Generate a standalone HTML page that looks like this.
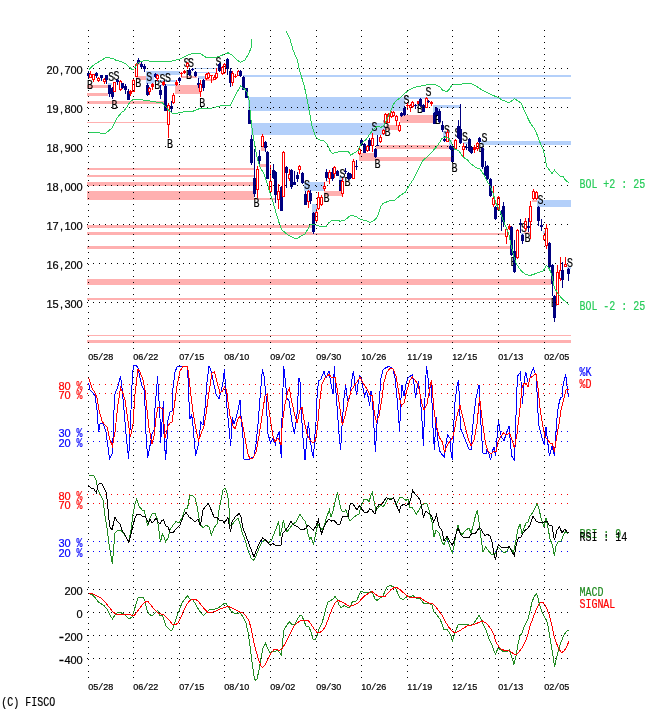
<!DOCTYPE html>
<html><head><meta charset="utf-8"><title>FISCO chart</title>
<style>html,body{margin:0;padding:0;background:#fff}svg{display:block}text{font-family:"Liberation Mono","DejaVu Sans Mono",monospace}text.s{font-family:"Liberation Sans","DejaVu Sans",sans-serif}tspan.m{font-family:"Liberation Mono","DejaVu Sans Mono",monospace}</style></head><body>
<svg width="670" height="724" viewBox="0 0 670 724" shape-rendering="crispEdges">
<rect width="670" height="724" fill="#fff"/>
<g>
<rect x="87" y="85" width="21" height="3" fill="#ffb0b0"/>
<rect x="87" y="93" width="21" height="3" fill="#ffb0b0"/>
<rect x="87" y="101" width="78" height="3" fill="#ffb0b0"/>
<rect x="87" y="122" width="81" height="1" fill="#ffb0b0"/>
<rect x="87" y="168" width="167" height="2" fill="#ffb0b0"/>
<rect x="87" y="175" width="167" height="2" fill="#ffb0b0"/>
<rect x="87" y="181.5" width="167" height="4" fill="#ffb0b0"/>
<rect x="87" y="191" width="167" height="8.5" fill="#ffb0b0"/>
<rect x="254" y="197.5" width="21" height="2" fill="#ffb0b0"/>
<rect x="87" y="225" width="225" height="2.5" fill="#ffb0b0"/>
<rect x="87" y="232" width="225" height="3" fill="#ffb0b0"/>
<rect x="312" y="233" width="193.5" height="2" fill="#ffb0b0"/>
<rect x="87" y="246" width="423" height="3" fill="#ffb0b0"/>
<rect x="87" y="279" width="464" height="5.5" fill="#ffb0b0"/>
<rect x="87" y="298" width="465.5" height="2" fill="#ffb0b0"/>
<rect x="87" y="335" width="484" height="1" fill="#ffb0b0"/>
<rect x="87" y="340" width="484" height="3" fill="#ffb0b0"/>
<rect x="135.5" y="76" width="10.5" height="4" fill="#ffb0b0"/>
<rect x="137" y="62.5" width="4" height="2" fill="#ffb0b0"/>
<rect x="175" y="85" width="24.5" height="8.5" fill="#ffb0b0"/>
<rect x="181" y="75.5" width="16" height="2.5" fill="#ffb0b0"/>
<rect x="204.5" y="79" width="9.5" height="1.5" fill="#ffb0b0"/>
<rect x="261" y="147" width="3.5" height="3.5" fill="#ffb0b0"/>
<rect x="259.5" y="164" width="6.5" height="2.5" fill="#ffb0b0"/>
<rect x="323.5" y="191" width="18" height="4.5" fill="#ffb0b0"/>
<rect x="325.5" y="180.5" width="3.5" height="1.5" fill="#ffb0b0"/>
<rect x="344" y="176.5" width="2" height="1.5" fill="#ffb0b0"/>
<rect x="400" y="115" width="34" height="7.5" fill="#ffb0b0"/>
<rect x="386" y="125" width="14" height="4.5" fill="#ffb0b0"/>
<rect x="376" y="145" width="75" height="3.5" fill="#ffb0b0"/>
<rect x="358.5" y="153" width="15.5" height="7.5" fill="#ffb0b0"/>
<rect x="374" y="157" width="77" height="3.5" fill="#ffb0b0"/>
<rect x="454" y="140" width="3" height="5" fill="#ffb0b0"/>
<rect x="532" y="199.5" width="5" height="2" fill="#ffb0b0"/>
<rect x="524" y="231.8" width="6" height="1.7" fill="#ffb0b0"/>
<rect x="242.5" y="75" width="328.5" height="2" fill="#b4d0fa"/>
<rect x="248" y="97" width="157" height="14" fill="#b4d0fa"/>
<rect x="405" y="97" width="166" height="2" fill="#b4d0fa"/>
<rect x="250.5" y="123" width="134.5" height="12" fill="#b4d0fa"/>
<rect x="146" y="71" width="34" height="3.5" fill="#b4d0fa"/>
<rect x="146" y="74.5" width="8" height="9.5" fill="#b4d0fa"/>
<rect x="154" y="80" width="22" height="1.5" fill="#b4d0fa"/>
<rect x="161" y="84" width="15" height="2" fill="#b4d0fa"/>
<rect x="192" y="68" width="26" height="1.2" fill="#b4d0fa"/>
<rect x="196" y="71.5" width="20" height="1.3" fill="#b4d0fa"/>
<rect x="197.5" y="76" width="7.5" height="2.5" fill="#b4d0fa"/>
<rect x="304" y="182" width="20.5" height="8.5" fill="#b4d0fa"/>
<rect x="312" y="204" width="5" height="8.5" fill="#b4d0fa"/>
<rect x="339" y="175.5" width="4.5" height="4" fill="#b4d0fa"/>
<rect x="433" y="105" width="27.5" height="2.5" fill="#b4d0fa"/>
<rect x="433" y="107.5" width="7" height="5.5" fill="#b4d0fa"/>
<rect x="443" y="131" width="4" height="7" fill="#b4d0fa"/>
<rect x="449" y="140" width="3" height="6" fill="#b4d0fa"/>
<rect x="463" y="142" width="5" height="2" fill="#b4d0fa"/>
<rect x="481" y="141" width="90" height="3.5" fill="#b4d0fa"/>
<rect x="537" y="199.5" width="34" height="7.3" fill="#b4d0fa"/>
<rect x="567" y="267" width="4" height="2" fill="#b4d0fa"/>
<rect x="521" y="233" width="3" height="2" fill="#b4d0fa"/>
<rect x="543" y="231" width="2" height="2.5" fill="#b4d0fa"/>
<rect x="108" y="83" width="4" height="1.5" fill="#b4d0fa"/>
</g>
<g>
<rect x="88" y="71" width="1" height="7" fill="#000080"/>
<rect x="87" y="73" width="3" height="3" fill="#000080"/>
<text transform="translate(87.1,88.8) scale(0.8333,1)" font-size="12" fill="#000" stroke="#000" stroke-width="0.2">B</text>
<rect x="90" y="71" width="1" height="7" fill="#ff0000"/>
<rect x="89.5" y="74.5" width="2" height="3" fill="#fff" stroke="#ff0000" stroke-width="1"/>
<rect x="93" y="74" width="1" height="8" fill="#ff0000"/>
<rect x="92.5" y="74.5" width="2" height="5" fill="#fff" stroke="#ff0000" stroke-width="1"/>
<rect x="96" y="72" width="1" height="6" fill="#000080"/>
<rect x="95" y="73" width="3" height="3" fill="#000080"/>
<rect x="98" y="77" width="1" height="5" fill="#ff0000"/>
<rect x="97.5" y="78.5" width="2" height="2" fill="#fff" stroke="#ff0000" stroke-width="1"/>
<rect x="101" y="75" width="1" height="6" fill="#000080"/>
<rect x="100" y="75" width="3" height="3" fill="#000080"/>
<rect x="104" y="78" width="1" height="6" fill="#ff0000"/>
<rect x="103.5" y="79.5" width="2" height="2" fill="#fff" stroke="#ff0000" stroke-width="1"/>
<rect x="106" y="75" width="1" height="9" fill="#000080"/>
<rect x="105" y="75" width="3" height="5" fill="#000080"/>
<rect x="109" y="85" width="1" height="12" fill="#000080"/>
<rect x="108" y="85" width="3" height="9" fill="#000080"/>
<text transform="translate(108.3,80.6) scale(0.8333,1)" font-size="12" fill="#000" stroke="#000" stroke-width="0.2">S</text>
<rect x="112" y="87" width="1" height="12" fill="#000080"/>
<rect x="111" y="88" width="3" height="9" fill="#000080"/>
<text transform="translate(111.4,109.3) scale(0.8333,1)" font-size="12" fill="#000" stroke="#000" stroke-width="0.2">B</text>
<rect x="114" y="82" width="1" height="10" fill="#ff0000"/>
<rect x="113.5" y="82.5" width="2" height="9" fill="#fff" stroke="#ff0000" stroke-width="1"/>
<text transform="translate(113.4,80.2) scale(0.8333,1)" font-size="12" fill="#000" stroke="#000" stroke-width="0.2">S</text>
<rect x="117" y="79" width="1" height="6" fill="#000080"/>
<rect x="116" y="80" width="3" height="2" fill="#000080"/>
<rect x="120" y="80" width="1" height="11" fill="#ff0000"/>
<rect x="119.5" y="81.5" width="2" height="8" fill="#fff" stroke="#ff0000" stroke-width="1"/>
<rect x="122" y="83" width="1" height="6" fill="#000080"/>
<rect x="121" y="83" width="3" height="5" fill="#000080"/>
<rect x="125" y="84" width="1" height="10" fill="#000080"/>
<rect x="124" y="86" width="3" height="4" fill="#000080"/>
<rect x="128" y="89" width="1" height="11" fill="#000080"/>
<rect x="127" y="91" width="3" height="9" fill="#000080"/>
<rect x="130" y="90" width="1" height="6" fill="#ff0000"/>
<rect x="129" y="91" width="3" height="3" fill="#ff0000"/>
<rect x="133" y="79" width="1" height="13" fill="#ff0000"/>
<rect x="132.5" y="80.5" width="2" height="11" fill="#fff" stroke="#ff0000" stroke-width="1"/>
<rect x="136" y="63" width="1" height="14" fill="#ff0000"/>
<rect x="135.5" y="64.5" width="2" height="12" fill="#fff" stroke="#ff0000" stroke-width="1"/>
<text transform="translate(135.2,87.3) scale(0.8333,1)" font-size="12" fill="#000" stroke="#000" stroke-width="0.2">B</text>
<rect x="138" y="58" width="1" height="6" fill="#000080"/>
<rect x="137" y="60" width="3" height="3" fill="#000080"/>
<rect x="141" y="61" width="1" height="7" fill="#000080"/>
<rect x="140" y="64" width="3" height="3" fill="#000080"/>
<rect x="144" y="64" width="1" height="8" fill="#000080"/>
<rect x="143" y="66" width="3" height="3" fill="#000080"/>
<rect x="147" y="83" width="1" height="13" fill="#000080"/>
<rect x="146" y="85" width="3" height="10" fill="#000080"/>
<text transform="translate(146.2,80.8) scale(0.8333,1)" font-size="12" fill="#000" stroke="#000" stroke-width="0.2">S</text>
<rect x="149" y="87" width="1" height="8" fill="#ff0000"/>
<rect x="148.5" y="88.5" width="2" height="3" fill="#fff" stroke="#ff0000" stroke-width="1"/>
<rect x="152" y="83" width="1" height="7" fill="#ff0000"/>
<rect x="151" y="84" width="3" height="3" fill="#ff0000"/>
<rect x="155" y="73" width="1" height="5" fill="#000080"/>
<rect x="154" y="74" width="3" height="3" fill="#000080"/>
<text transform="translate(154.2,89.3) scale(0.8333,1)" font-size="12" fill="#000" stroke="#000" stroke-width="0.2">B</text>
<rect x="157" y="74" width="1" height="7" fill="#ff0000"/>
<rect x="156.5" y="75.5" width="2" height="3" fill="#fff" stroke="#ff0000" stroke-width="1"/>
<rect x="160" y="85" width="1" height="14" fill="#000080"/>
<rect x="159" y="90" width="3" height="5" fill="#000080"/>
<text transform="translate(159.4,83.3) scale(0.8333,1)" font-size="12" fill="#000" stroke="#000" stroke-width="0.2">S</text>
<rect x="163" y="81" width="1" height="5" fill="#ff0000"/>
<rect x="162" y="82" width="3" height="3" fill="#ff0000"/>
<rect x="165" y="84" width="1" height="27" fill="#000080"/>
<rect x="164" y="86" width="3" height="25" fill="#000080"/>
<text transform="translate(164.9,82.3) scale(0.8333,1)" font-size="12" fill="#000" stroke="#000" stroke-width="0.2">S</text>
<rect x="168" y="103" width="1" height="35" fill="#ff0000"/>
<rect x="167.5" y="105.5" width="2" height="19" fill="#fff" stroke="#ff0000" stroke-width="1"/>
<text transform="translate(167,147.8) scale(0.8333,1)" font-size="12" fill="#000" stroke="#000" stroke-width="0.2">B</text>
<rect x="171" y="101" width="1" height="11" fill="#000080"/>
<rect x="170" y="106" width="3" height="3" fill="#000080"/>
<rect x="173" y="93" width="1" height="11" fill="#ff0000"/>
<rect x="172.5" y="95.5" width="2" height="7" fill="#fff" stroke="#ff0000" stroke-width="1"/>
<rect x="176" y="80" width="1" height="6" fill="#ff0000"/>
<rect x="175" y="82" width="3" height="3" fill="#ff0000"/>
<rect x="179" y="77" width="1" height="6" fill="#000080"/>
<rect x="178" y="78" width="3" height="3" fill="#000080"/>
<rect x="181" y="72" width="1" height="5" fill="#ff0000"/>
<rect x="180" y="73" width="3" height="1" fill="#ff0000"/>
<rect x="184" y="70" width="1" height="4" fill="#ff0000"/>
<rect x="183" y="71" width="3" height="2" fill="#ff0000"/>
<text transform="translate(183.4,67.3) scale(0.8333,1)" font-size="12" fill="#000" stroke="#000" stroke-width="0.2">S</text>
<rect x="187" y="62" width="1" height="7" fill="#ff0000"/>
<rect x="186.5" y="63.5" width="2" height="3" fill="#fff" stroke="#ff0000" stroke-width="1"/>
<text transform="translate(185.9,79.3) scale(0.8333,1)" font-size="12" fill="#000" stroke="#000" stroke-width="0.2">B</text>
<rect x="189" y="69" width="1" height="7" fill="#000080"/>
<rect x="188" y="70" width="3" height="5" fill="#000080"/>
<text transform="translate(187.9,67.3) scale(0.8333,1)" font-size="12" fill="#000" stroke="#000" stroke-width="0.2">S</text>
<rect x="192" y="68" width="1" height="3" fill="#000080"/>
<rect x="191" y="69" width="3" height="1" fill="#000080"/>
<rect x="195" y="71" width="1" height="6" fill="#000080"/>
<rect x="194" y="72" width="3" height="4" fill="#000080"/>
<rect x="198" y="78" width="1" height="10" fill="#000080"/>
<rect x="197" y="83" width="3" height="2" fill="#000080"/>
<rect x="200" y="80" width="1" height="17" fill="#ff0000"/>
<rect x="199.5" y="84.5" width="2" height="7" fill="#fff" stroke="#ff0000" stroke-width="1"/>
<text transform="translate(199.2,107.3) scale(0.8333,1)" font-size="12" fill="#000" stroke="#000" stroke-width="0.2">B</text>
<rect x="203" y="79" width="1" height="12" fill="#000080"/>
<rect x="202" y="80" width="3" height="8" fill="#000080"/>
<rect x="206" y="73" width="1" height="7" fill="#ff0000"/>
<rect x="205.5" y="74.5" width="2" height="4" fill="#fff" stroke="#ff0000" stroke-width="1"/>
<rect x="208" y="72" width="1" height="7" fill="#ff0000"/>
<rect x="207.5" y="73.5" width="2" height="4" fill="#fff" stroke="#ff0000" stroke-width="1"/>
<rect x="211" y="75" width="1" height="8" fill="#ff0000"/>
<rect x="210" y="75" width="3" height="1" fill="#ff0000"/>
<rect x="214" y="75" width="1" height="5" fill="#ff0000"/>
<rect x="213.5" y="77.5" width="2" height="2" fill="#fff" stroke="#ff0000" stroke-width="1"/>
<rect x="216" y="68" width="1" height="11" fill="#ff0000"/>
<rect x="215.5" y="73.5" width="2" height="4" fill="#fff" stroke="#ff0000" stroke-width="1"/>
<text transform="translate(215.4,66.3) scale(0.8333,1)" font-size="12" fill="#000" stroke="#000" stroke-width="0.2">S</text>
<rect x="219" y="63" width="1" height="9" fill="#000080"/>
<rect x="218" y="64" width="3" height="7" fill="#000080"/>
<rect x="222" y="66" width="1" height="9" fill="#ff0000"/>
<rect x="221.5" y="67.5" width="2" height="6" fill="#fff" stroke="#ff0000" stroke-width="1"/>
<rect x="224" y="63" width="1" height="11" fill="#ff0000"/>
<rect x="223.5" y="64.5" width="2" height="8" fill="#fff" stroke="#ff0000" stroke-width="1"/>
<rect x="227" y="58" width="1" height="17" fill="#000080"/>
<rect x="226" y="59" width="3" height="10" fill="#000080"/>
<rect x="230" y="68" width="1" height="19" fill="#000080"/>
<rect x="229" y="71" width="3" height="12" fill="#000080"/>
<rect x="232" y="71" width="1" height="15" fill="#ff0000"/>
<rect x="231.5" y="73.5" width="2" height="9" fill="#fff" stroke="#ff0000" stroke-width="1"/>
<rect x="235" y="74" width="1" height="4" fill="#ff0000"/>
<rect x="234" y="76" width="3" height="1" fill="#ff0000"/>
<rect x="238" y="70" width="1" height="6" fill="#ff0000"/>
<rect x="237.5" y="71.5" width="2" height="4" fill="#fff" stroke="#ff0000" stroke-width="1"/>
<rect x="240" y="70" width="1" height="7" fill="#000080"/>
<rect x="239" y="71" width="3" height="5" fill="#000080"/>
<rect x="243" y="76" width="1" height="14" fill="#000080"/>
<rect x="242" y="77" width="3" height="13" fill="#000080"/>
<rect x="246" y="88" width="1" height="10" fill="#000080"/>
<rect x="245" y="88" width="3" height="10" fill="#000080"/>
<rect x="249" y="110" width="1" height="14" fill="#000080"/>
<rect x="248" y="110" width="3" height="14" fill="#000080"/>
<rect x="251" y="135" width="1" height="30" fill="#000080"/>
<rect x="250" y="139" width="3" height="24" fill="#000080"/>
<rect x="254" y="149" width="1" height="48" fill="#000080"/>
<rect x="253" y="178" width="3" height="16" fill="#000080"/>
<text transform="translate(253.4,207.3) scale(0.8333,1)" font-size="12" fill="#000" stroke="#000" stroke-width="0.2">B</text>
<rect x="257" y="166" width="1" height="32" fill="#ff0000"/>
<rect x="256.5" y="169.5" width="2" height="20" fill="#fff" stroke="#ff0000" stroke-width="1"/>
<rect x="259" y="150" width="1" height="15" fill="#000080"/>
<rect x="258" y="156" width="3" height="5" fill="#000080"/>
<rect x="262" y="134" width="1" height="13" fill="#ff0000"/>
<rect x="261.5" y="136.5" width="2" height="10" fill="#fff" stroke="#ff0000" stroke-width="1"/>
<rect x="265" y="141" width="1" height="11" fill="#000080"/>
<rect x="264" y="142" width="3" height="6" fill="#000080"/>
<rect x="267" y="151" width="1" height="28" fill="#000080"/>
<rect x="266" y="152" width="3" height="27" fill="#000080"/>
<rect x="270" y="165" width="1" height="27" fill="#ff0000"/>
<rect x="269.5" y="181.5" width="2" height="10" fill="#fff" stroke="#ff0000" stroke-width="1"/>
<rect x="273" y="164" width="1" height="15" fill="#000080"/>
<rect x="272" y="170" width="3" height="8" fill="#000080"/>
<rect x="275" y="171" width="1" height="32" fill="#000080"/>
<rect x="274" y="172" width="3" height="23" fill="#000080"/>
<rect x="278" y="184" width="1" height="25" fill="#ff0000"/>
<rect x="277.5" y="191.5" width="2" height="8" fill="#fff" stroke="#ff0000" stroke-width="1"/>
<rect x="281" y="186" width="1" height="25" fill="#000080"/>
<rect x="280" y="187" width="3" height="24" fill="#000080"/>
<rect x="283" y="151" width="1" height="46" fill="#ff0000"/>
<rect x="282.5" y="152.5" width="2" height="44" fill="#fff" stroke="#ff0000" stroke-width="1"/>
<rect x="286" y="166" width="1" height="22" fill="#000080"/>
<rect x="285" y="167" width="3" height="6" fill="#000080"/>
<rect x="289" y="169" width="1" height="12" fill="#ff0000"/>
<rect x="288.5" y="174.5" width="2" height="4" fill="#fff" stroke="#ff0000" stroke-width="1"/>
<rect x="291" y="169" width="1" height="20" fill="#000080"/>
<rect x="290" y="170" width="3" height="17" fill="#000080"/>
<rect x="294" y="171" width="1" height="14" fill="#000080"/>
<rect x="293" y="182" width="3" height="3" fill="#000080"/>
<rect x="297" y="172" width="1" height="10" fill="#000080"/>
<rect x="296" y="175" width="3" height="4" fill="#000080"/>
<rect x="299" y="165" width="1" height="9" fill="#ff0000"/>
<rect x="298.5" y="166.5" width="2" height="3" fill="#fff" stroke="#ff0000" stroke-width="1"/>
<rect x="302" y="172" width="1" height="12" fill="#000080"/>
<rect x="301" y="173" width="3" height="10" fill="#000080"/>
<rect x="305" y="191" width="1" height="14" fill="#000080"/>
<rect x="304" y="194" width="3" height="11" fill="#000080"/>
<text transform="translate(303.9,189.3) scale(0.8333,1)" font-size="12" fill="#000" stroke="#000" stroke-width="0.2">S</text>
<rect x="308" y="190" width="1" height="18" fill="#ff0000"/>
<rect x="307.5" y="191.5" width="2" height="10" fill="#fff" stroke="#ff0000" stroke-width="1"/>
<rect x="310" y="190" width="1" height="14" fill="#000080"/>
<rect x="309" y="193" width="3" height="8" fill="#000080"/>
<rect x="313" y="212" width="1" height="22" fill="#000080"/>
<rect x="312" y="213" width="3" height="19" fill="#000080"/>
<rect x="316" y="209" width="1" height="13" fill="#ff0000"/>
<rect x="315.5" y="212.5" width="2" height="8" fill="#fff" stroke="#ff0000" stroke-width="1"/>
<rect x="318" y="192" width="1" height="18" fill="#ff0000"/>
<rect x="317.5" y="197.5" width="2" height="11" fill="#fff" stroke="#ff0000" stroke-width="1"/>
<rect x="321" y="195" width="1" height="11" fill="#ff0000"/>
<rect x="320.5" y="197.5" width="2" height="7" fill="#fff" stroke="#ff0000" stroke-width="1"/>
<rect x="324" y="182" width="1" height="9" fill="#ff0000"/>
<rect x="323.5" y="186.5" width="2" height="2" fill="#fff" stroke="#ff0000" stroke-width="1"/>
<text transform="translate(323.4,202.3) scale(0.8333,1)" font-size="12" fill="#000" stroke="#000" stroke-width="0.2">B</text>
<rect x="326" y="169" width="1" height="12" fill="#000080"/>
<rect x="325" y="172" width="3" height="6" fill="#000080"/>
<rect x="329" y="170" width="1" height="14" fill="#ff0000"/>
<rect x="328.5" y="172.5" width="2" height="6" fill="#fff" stroke="#ff0000" stroke-width="1"/>
<rect x="332" y="168" width="1" height="13" fill="#000080"/>
<rect x="331" y="172" width="3" height="7" fill="#000080"/>
<rect x="334" y="166" width="1" height="12" fill="#ff0000"/>
<rect x="333.5" y="167.5" width="2" height="6" fill="#fff" stroke="#ff0000" stroke-width="1"/>
<rect x="337" y="170" width="1" height="6" fill="#000080"/>
<rect x="336" y="171" width="3" height="5" fill="#000080"/>
<rect x="340" y="180" width="1" height="11" fill="#000080"/>
<rect x="339" y="180" width="3" height="11" fill="#000080"/>
<text transform="translate(339.4,177.8) scale(0.8333,1)" font-size="12" fill="#000" stroke="#000" stroke-width="0.2">S</text>
<rect x="342" y="178" width="1" height="19" fill="#ff0000"/>
<rect x="341.5" y="181.5" width="2" height="12" fill="#fff" stroke="#ff0000" stroke-width="1"/>
<rect x="345" y="168" width="1" height="6" fill="#000080"/>
<rect x="344" y="171" width="3" height="1" fill="#000080"/>
<text transform="translate(344.4,186.3) scale(0.8333,1)" font-size="12" fill="#000" stroke="#000" stroke-width="0.2">B</text>
<rect x="348" y="172" width="1" height="8" fill="#000080"/>
<rect x="347" y="173" width="3" height="6" fill="#000080"/>
<rect x="350" y="173" width="1" height="6" fill="#000080"/>
<rect x="349" y="174" width="3" height="4" fill="#000080"/>
<rect x="353" y="159" width="1" height="20" fill="#ff0000"/>
<rect x="352.5" y="161.5" width="2" height="17" fill="#fff" stroke="#ff0000" stroke-width="1"/>
<rect x="356" y="160" width="1" height="10" fill="#000080"/>
<rect x="355" y="166" width="3" height="1" fill="#000080"/>
<rect x="359" y="148" width="1" height="7" fill="#ff0000"/>
<rect x="358.5" y="149.5" width="2" height="4" fill="#fff" stroke="#ff0000" stroke-width="1"/>
<rect x="361" y="138" width="1" height="8" fill="#000080"/>
<rect x="360" y="140" width="3" height="5" fill="#000080"/>
<rect x="364" y="143" width="1" height="10" fill="#000080"/>
<rect x="363" y="144" width="3" height="9" fill="#000080"/>
<rect x="367" y="145" width="1" height="7" fill="#ff0000"/>
<rect x="366.5" y="146.5" width="2" height="4" fill="#fff" stroke="#ff0000" stroke-width="1"/>
<rect x="369" y="138" width="1" height="13" fill="#000080"/>
<rect x="368" y="140" width="3" height="6" fill="#000080"/>
<rect x="372" y="133" width="1" height="19" fill="#ff0000"/>
<rect x="371.5" y="138.5" width="2" height="7" fill="#fff" stroke="#ff0000" stroke-width="1"/>
<text transform="translate(371.4,130.8) scale(0.8333,1)" font-size="12" fill="#000" stroke="#000" stroke-width="0.2">S</text>
<rect x="375" y="148" width="1" height="10" fill="#000080"/>
<rect x="374" y="149" width="3" height="8" fill="#000080"/>
<text transform="translate(374.4,168.3) scale(0.8333,1)" font-size="12" fill="#000" stroke="#000" stroke-width="0.2">B</text>
<rect x="377" y="135" width="1" height="11" fill="#000080"/>
<rect x="376" y="145" width="3" height="1" fill="#000080"/>
<rect x="380" y="135" width="1" height="8" fill="#ff0000"/>
<rect x="379.5" y="137.5" width="2" height="4" fill="#fff" stroke="#ff0000" stroke-width="1"/>
<rect x="383" y="129" width="1" height="6" fill="#ff0000"/>
<rect x="382.5" y="130.5" width="2" height="3" fill="#fff" stroke="#ff0000" stroke-width="1"/>
<text transform="translate(382.9,127.8) scale(0.8333,1)" font-size="12" fill="#000" stroke="#000" stroke-width="0.2">S</text>
<rect x="385" y="113" width="1" height="10" fill="#ff0000"/>
<rect x="384.5" y="114.5" width="2" height="8" fill="#fff" stroke="#ff0000" stroke-width="1"/>
<text transform="translate(384.4,136.3) scale(0.8333,1)" font-size="12" fill="#000" stroke="#000" stroke-width="0.2">B</text>
<rect x="388" y="113" width="1" height="10" fill="#ff0000"/>
<rect x="387.5" y="114.5" width="2" height="8" fill="#fff" stroke="#ff0000" stroke-width="1"/>
<rect x="391" y="111" width="1" height="7" fill="#ff0000"/>
<rect x="390.5" y="112.5" width="2" height="4" fill="#fff" stroke="#ff0000" stroke-width="1"/>
<rect x="393" y="111" width="1" height="6" fill="#ff0000"/>
<rect x="392.5" y="112.5" width="2" height="3" fill="#fff" stroke="#ff0000" stroke-width="1"/>
<rect x="396" y="115" width="1" height="11" fill="#ff0000"/>
<rect x="395.5" y="116.5" width="2" height="4" fill="#fff" stroke="#ff0000" stroke-width="1"/>
<rect x="399" y="122" width="1" height="10" fill="#ff0000"/>
<rect x="398.5" y="125.5" width="2" height="5" fill="#fff" stroke="#ff0000" stroke-width="1"/>
<rect x="401" y="112" width="1" height="5" fill="#000080"/>
<rect x="400" y="113" width="3" height="3" fill="#000080"/>
<rect x="404" y="106" width="1" height="10" fill="#000080"/>
<rect x="403" y="108" width="3" height="7" fill="#000080"/>
<text transform="translate(403.4,104.3) scale(0.8333,1)" font-size="12" fill="#000" stroke="#000" stroke-width="0.2">S</text>
<rect x="407" y="102" width="1" height="8" fill="#ff0000"/>
<rect x="406" y="105" width="3" height="1" fill="#ff0000"/>
<rect x="410" y="104" width="1" height="8" fill="#ff0000"/>
<rect x="409.5" y="105.5" width="2" height="2" fill="#fff" stroke="#ff0000" stroke-width="1"/>
<rect x="412" y="101" width="1" height="7" fill="#ff0000"/>
<rect x="411.5" y="102.5" width="2" height="4" fill="#fff" stroke="#ff0000" stroke-width="1"/>
<rect x="415" y="104" width="1" height="5" fill="#000080"/>
<rect x="414" y="105" width="3" height="1" fill="#000080"/>
<rect x="418" y="101" width="1" height="4" fill="#ff0000"/>
<rect x="417" y="101" width="3" height="3" fill="#ff0000"/>
<text transform="translate(416.9,113.3) scale(0.8333,1)" font-size="12" fill="#000" stroke="#000" stroke-width="0.2">B</text>
<rect x="420" y="98" width="1" height="9" fill="#000080"/>
<rect x="419" y="99" width="3" height="7" fill="#000080"/>
<rect x="423" y="104" width="1" height="8" fill="#000080"/>
<rect x="422" y="105" width="3" height="7" fill="#000080"/>
<rect x="426" y="97" width="1" height="11" fill="#ff0000"/>
<rect x="425.5" y="98.5" width="2" height="9" fill="#fff" stroke="#ff0000" stroke-width="1"/>
<text transform="translate(425.4,96.3) scale(0.8333,1)" font-size="12" fill="#000" stroke="#000" stroke-width="0.2">S</text>
<rect x="428" y="100" width="1" height="3" fill="#000080"/>
<rect x="427" y="101" width="3" height="1" fill="#000080"/>
<rect x="431" y="101" width="1" height="5" fill="#ff0000"/>
<rect x="430" y="102" width="3" height="2" fill="#ff0000"/>
<rect x="434" y="112" width="1" height="12" fill="#000080"/>
<rect x="433" y="113" width="3" height="11" fill="#000080"/>
<rect x="436" y="107" width="1" height="10" fill="#000080"/>
<rect x="435" y="108" width="3" height="7" fill="#000080"/>
<text transform="translate(434.9,123.8) scale(0.8333,1)" font-size="12" fill="#000" stroke="#000" stroke-width="0.2">B</text>
<rect x="439" y="109" width="1" height="14" fill="#000080"/>
<rect x="438" y="111" width="3" height="11" fill="#000080"/>
<rect x="442" y="121" width="1" height="11" fill="#000080"/>
<rect x="441" y="125" width="3" height="5" fill="#000080"/>
<rect x="444" y="136" width="1" height="6" fill="#000080"/>
<rect x="443" y="139" width="3" height="2" fill="#000080"/>
<text transform="translate(443.9,133.8) scale(0.8333,1)" font-size="12" fill="#000" stroke="#000" stroke-width="0.2">S</text>
<rect x="447" y="130" width="1" height="12" fill="#ff0000"/>
<rect x="446.5" y="132.5" width="2" height="9" fill="#fff" stroke="#ff0000" stroke-width="1"/>
<rect x="450" y="145" width="1" height="5" fill="#000080"/>
<rect x="449" y="146" width="3" height="3" fill="#000080"/>
<rect x="452" y="146" width="1" height="17" fill="#000080"/>
<rect x="451" y="147" width="3" height="15" fill="#000080"/>
<text transform="translate(451.4,172.3) scale(0.8333,1)" font-size="12" fill="#000" stroke="#000" stroke-width="0.2">B</text>
<rect x="455" y="139" width="1" height="11" fill="#ff0000"/>
<rect x="454.5" y="140.5" width="2" height="8" fill="#fff" stroke="#ff0000" stroke-width="1"/>
<text transform="translate(454.4,136.8) scale(0.8333,1)" font-size="12" fill="#000" stroke="#000" stroke-width="0.2">S</text>
<rect x="458" y="120" width="1" height="19" fill="#000080"/>
<rect x="457" y="126" width="3" height="12" fill="#000080"/>
<rect x="460" y="104" width="1" height="40" fill="#000080"/>
<rect x="459" y="129" width="3" height="14" fill="#000080"/>
<rect x="463" y="143" width="1" height="15" fill="#ff0000"/>
<rect x="462.5" y="146.5" width="2" height="3" fill="#fff" stroke="#ff0000" stroke-width="1"/>
<text transform="translate(461.9,141.3) scale(0.8333,1)" font-size="12" fill="#000" stroke="#000" stroke-width="0.2">S</text>
<rect x="466" y="144" width="1" height="6" fill="#000080"/>
<rect x="465" y="147" width="3" height="1" fill="#000080"/>
<rect x="469" y="138" width="1" height="14" fill="#000080"/>
<rect x="468" y="139" width="3" height="12" fill="#000080"/>
<rect x="471" y="146" width="1" height="8" fill="#000080"/>
<rect x="470" y="147" width="3" height="6" fill="#000080"/>
<rect x="474" y="145" width="1" height="8" fill="#ff0000"/>
<rect x="473" y="147" width="3" height="3" fill="#ff0000"/>
<rect x="477" y="142" width="1" height="9" fill="#ff0000"/>
<rect x="476.5" y="143.5" width="2" height="5" fill="#fff" stroke="#ff0000" stroke-width="1"/>
<rect x="479" y="137" width="1" height="6" fill="#000080"/>
<rect x="478" y="138" width="3" height="4" fill="#000080"/>
<text transform="translate(478.4,152.3) scale(0.8333,1)" font-size="12" fill="#000" stroke="#000" stroke-width="0.2">B</text>
<rect x="482" y="147" width="1" height="22" fill="#000080"/>
<rect x="481" y="148" width="3" height="19" fill="#000080"/>
<text transform="translate(481.4,142.3) scale(0.8333,1)" font-size="12" fill="#000" stroke="#000" stroke-width="0.2">S</text>
<rect x="485" y="161" width="1" height="15" fill="#000080"/>
<rect x="484" y="167" width="3" height="8" fill="#000080"/>
<rect x="487" y="165" width="1" height="15" fill="#000080"/>
<rect x="486" y="166" width="3" height="13" fill="#000080"/>
<rect x="490" y="178" width="1" height="19" fill="#000080"/>
<rect x="489" y="179" width="3" height="17" fill="#000080"/>
<rect x="493" y="186" width="1" height="21" fill="#ff0000"/>
<rect x="492.5" y="198.5" width="2" height="6" fill="#fff" stroke="#ff0000" stroke-width="1"/>
<rect x="495" y="206" width="1" height="14" fill="#000080"/>
<rect x="494" y="207" width="3" height="12" fill="#000080"/>
<rect x="498" y="196" width="1" height="15" fill="#ff0000"/>
<rect x="497.5" y="197.5" width="2" height="12" fill="#fff" stroke="#ff0000" stroke-width="1"/>
<rect x="501" y="210" width="1" height="21" fill="#000080"/>
<rect x="500" y="214" width="3" height="1" fill="#000080"/>
<rect x="503" y="202" width="1" height="25" fill="#000080"/>
<rect x="502" y="206" width="3" height="16" fill="#000080"/>
<rect x="506" y="227" width="1" height="17" fill="#ff0000"/>
<rect x="505.5" y="229.5" width="2" height="7" fill="#fff" stroke="#ff0000" stroke-width="1"/>
<rect x="509" y="224" width="1" height="6" fill="#ff0000"/>
<rect x="508" y="226" width="3" height="3" fill="#ff0000"/>
<rect x="511" y="226" width="1" height="30" fill="#000080"/>
<rect x="510" y="227" width="3" height="28" fill="#000080"/>
<text transform="translate(510.4,266.3) scale(0.8333,1)" font-size="12" fill="#000" stroke="#000" stroke-width="0.2">B</text>
<rect x="514" y="240" width="1" height="33" fill="#000080"/>
<rect x="513" y="251" width="3" height="21" fill="#000080"/>
<rect x="517" y="229" width="1" height="30" fill="#ff0000"/>
<rect x="516.5" y="230.5" width="2" height="27" fill="#fff" stroke="#ff0000" stroke-width="1"/>
<rect x="520" y="219" width="1" height="14" fill="#000080"/>
<rect x="519" y="223" width="3" height="2" fill="#000080"/>
<rect x="522" y="234" width="1" height="10" fill="#000080"/>
<rect x="521" y="235" width="3" height="6" fill="#000080"/>
<text transform="translate(520.9,232.3) scale(0.8333,1)" font-size="12" fill="#000" stroke="#000" stroke-width="0.2">S</text>
<rect x="525" y="218" width="1" height="13" fill="#ff0000"/>
<rect x="524.5" y="221.5" width="2" height="7" fill="#fff" stroke="#ff0000" stroke-width="1"/>
<text transform="translate(524.4,241.8) scale(0.8333,1)" font-size="12" fill="#000" stroke="#000" stroke-width="0.2">B</text>
<rect x="528" y="218" width="1" height="14" fill="#000080"/>
<rect x="527" y="226" width="3" height="2" fill="#000080"/>
<rect x="530" y="201" width="1" height="38" fill="#ff0000"/>
<rect x="529.5" y="206.5" width="2" height="15" fill="#fff" stroke="#ff0000" stroke-width="1"/>
<rect x="533" y="189" width="1" height="11" fill="#ff0000"/>
<rect x="532.5" y="191.5" width="2" height="7" fill="#fff" stroke="#ff0000" stroke-width="1"/>
<rect x="536" y="191" width="1" height="9" fill="#ff0000"/>
<rect x="535.5" y="192.5" width="2" height="6" fill="#fff" stroke="#ff0000" stroke-width="1"/>
<rect x="538" y="206" width="1" height="20" fill="#000080"/>
<rect x="537" y="207" width="3" height="14" fill="#000080"/>
<text transform="translate(537.4,203.8) scale(0.8333,1)" font-size="12" fill="#000" stroke="#000" stroke-width="0.2">S</text>
<rect x="541" y="219" width="1" height="12" fill="#000080"/>
<rect x="540" y="225" width="3" height="2" fill="#000080"/>
<rect x="544" y="233" width="1" height="8" fill="#ff0000"/>
<rect x="543.5" y="235.5" width="2" height="4" fill="#fff" stroke="#ff0000" stroke-width="1"/>
<rect x="546" y="224" width="1" height="25" fill="#ff0000"/>
<rect x="545.5" y="228.5" width="2" height="17" fill="#fff" stroke="#ff0000" stroke-width="1"/>
<rect x="549" y="242" width="1" height="26" fill="#000080"/>
<rect x="548" y="243" width="3" height="24" fill="#000080"/>
<rect x="552" y="264" width="1" height="32" fill="#000080"/>
<rect x="551" y="265" width="3" height="19" fill="#000080"/>
<text transform="translate(550.9,307.3) scale(0.8333,1)" font-size="12" fill="#000" stroke="#000" stroke-width="0.2">B</text>
<rect x="554" y="295" width="1" height="27" fill="#000080"/>
<rect x="553" y="296" width="3" height="22" fill="#000080"/>
<rect x="557" y="265" width="1" height="40" fill="#ff0000"/>
<rect x="556.5" y="272.5" width="2" height="32" fill="#fff" stroke="#ff0000" stroke-width="1"/>
<rect x="560" y="257" width="1" height="24" fill="#ff0000"/>
<rect x="559.5" y="270.5" width="2" height="8" fill="#fff" stroke="#ff0000" stroke-width="1"/>
<rect x="562" y="262" width="1" height="26" fill="#000080"/>
<rect x="561" y="270" width="3" height="10" fill="#000080"/>
<rect x="565" y="257" width="1" height="10" fill="#ff0000"/>
<rect x="564.5" y="264.5" width="2" height="2" fill="#fff" stroke="#ff0000" stroke-width="1"/>
<rect x="568" y="268" width="1" height="13" fill="#000080"/>
<rect x="567" y="269" width="3" height="5" fill="#000080"/>
<text transform="translate(566.9,267.3) scale(0.8333,1)" font-size="12" fill="#000" stroke="#000" stroke-width="0.2">S</text>
</g>
<polyline points="88.4,70.4 92.7,65.7 99.4,61.4 104.8,58.3 106.5,57.3 108,57.5 112.7,58.5 116.3,60.4 120.4,61.4 125.4,63.4 128,66 129.5,67.2 132.5,69.8 134.5,68.5 137,64 140,61.8 144,60.8 154,61.2 164,61.5 172,61 180,59 186,56 188,55 194,53.2 200.5,53.5 207,58 215,57.8 222,55.2 228,52.8 232,55 237,60 240.5,62.5 245,60 249,53 251,48 251.6,39" fill="none" stroke="#28cc5a" stroke-width="1"/>
<polyline points="286.1,30.9 289.6,37.8 293,49.9 297.4,60.3 299.1,68.9 301.7,77.5 304.3,86.2 306.9,98.3 309.4,112.1 312,125.9 315.5,136.3 318.1,139.4 324.1,141.1 327.6,144.9 330,150.5 332.5,153.5 340,151.5 348,151 350.5,155 354,153.2 358,150.5 361,144 366,139.5 370,134 373,130 375,128 378,126 381,127.5 384,125 387,119 390,113 393,105 396,101 400,98 404,94 409,90 414,87.5 420,86.2 425,85.2 430,84.2 436,84.8 440,87 443,90.5 447,91.5 449,89.5 452,85 462,84 470,83 476,86 482,90 490,94 498,97.5 503,100.4 509.2,102.7 514.7,98.6 521,103.1 525.1,112.1 529.9,122.5 534.8,129.4 537.5,135.6 540.3,143.2 543.1,149.4 545.1,157.7 546.5,166 552,173.6 554.4,170.1 560.3,176.3 563.1,176.7 565.8,180.5 568.6,182.5" fill="none" stroke="#28cc5a" stroke-width="1"/>
<polyline points="88,132.4 100,133 106,133 112,128 117,118 122,112 124,110.8 127,107 130,102 133,99.5 139,99.8 146,100.2 154,101.8 162,102.5 166,107 169,110.5 173,113.8 178,113 184,111.8 193,111.2 201,108 212,108 222,105.5 230.5,105.2 235,96 240.5,86 244,88.5 247,92 249,100 251,120 253,135 255,147 257.5,159 260,167 264.5,175 267,183 270,193 273,202 276,213 279.5,224 282,230 288,235 296,239 302,235.5 305,234 308,229 310,224.5 315,224.5 320,226.5 326.5,226.2 328.5,223 332,220.5 338,220.2 340,221.2 345,220.2 348,217.5 351,215.2 356,216.5 360,219.2 367,221 370,222.6 375.5,219.4 378.3,214.6 381,206.3 383.1,203.5 390,200.4 394.9,200.1 400.4,195.2 405.2,192.5 408.7,186.3 412.8,180.1 417.7,170.4 422.5,160.7 426.6,157.3 432.2,151.7 437.7,145.5 442,138.5 446,136.8 449,138.5 452,144 454.5,149 459,151 463,157 467,159.5 471,164 476,167.5 480,169 484,175 487,181 490,186 493,193 496,203.5 500,211 503,220 506,227 509,235 511,245 513.5,255 516,263 519,268 522,271.5 526,274.5 530,275.5 536,273.5 543,271 546.5,265.5 549.5,269 552,276 554.5,288 558,294 563,299.5 566,302 568.8,304.5" fill="none" stroke="#28cc5a" stroke-width="1"/>
<text transform="translate(579.4,188) scale(0.8333,1)" font-size="12" fill="#28cc5a" stroke="#28cc5a" stroke-width="0.2">BOL +2 : 25</text>
<text transform="translate(579.4,310) scale(0.8333,1)" font-size="12" fill="#28cc5a" stroke="#28cc5a" stroke-width="0.2">BOL -2 : 25</text>
<g>
<line x1="88.5" y1="30" x2="88.5" y2="349" stroke="#000" stroke-width="1" stroke-dasharray="1 5"/>
<line x1="133.5" y1="30" x2="133.5" y2="349" stroke="#000" stroke-width="1" stroke-dasharray="1 5"/>
<line x1="179.5" y1="30" x2="179.5" y2="349" stroke="#000" stroke-width="1" stroke-dasharray="1 5"/>
<line x1="224.5" y1="30" x2="224.5" y2="349" stroke="#000" stroke-width="1" stroke-dasharray="1 5"/>
<line x1="270.5" y1="30" x2="270.5" y2="349" stroke="#000" stroke-width="1" stroke-dasharray="1 5"/>
<line x1="316.5" y1="30" x2="316.5" y2="349" stroke="#000" stroke-width="1" stroke-dasharray="1 5"/>
<line x1="361.5" y1="30" x2="361.5" y2="349" stroke="#000" stroke-width="1" stroke-dasharray="1 5"/>
<line x1="407.5" y1="30" x2="407.5" y2="349" stroke="#000" stroke-width="1" stroke-dasharray="1 5"/>
<line x1="452.5" y1="30" x2="452.5" y2="349" stroke="#000" stroke-width="1" stroke-dasharray="1 5"/>
<line x1="498.5" y1="30" x2="498.5" y2="349" stroke="#000" stroke-width="1" stroke-dasharray="1 5"/>
<line x1="544.5" y1="30" x2="544.5" y2="349" stroke="#000" stroke-width="1" stroke-dasharray="1 5"/>
<line x1="87" y1="68.5" x2="568" y2="68.5" stroke="#000" stroke-width="1" stroke-dasharray="1 5"/>
<line x1="87" y1="107.5" x2="568" y2="107.5" stroke="#000" stroke-width="1" stroke-dasharray="1 5"/>
<line x1="87" y1="146.5" x2="568" y2="146.5" stroke="#000" stroke-width="1" stroke-dasharray="1 5"/>
<line x1="87" y1="185.5" x2="568" y2="185.5" stroke="#000" stroke-width="1" stroke-dasharray="1 5"/>
<line x1="87" y1="224.5" x2="568" y2="224.5" stroke="#000" stroke-width="1" stroke-dasharray="1 5"/>
<line x1="87" y1="263.5" x2="568" y2="263.5" stroke="#000" stroke-width="1" stroke-dasharray="1 5"/>
<line x1="87" y1="302.5" x2="568" y2="302.5" stroke="#000" stroke-width="1" stroke-dasharray="1 5"/>
</g>
<text x="46.44 52.44 59.97 64.44 70.44 76.44" y="74" class="s" font-size="11" fill="#000" stroke="#000" stroke-width="0.2">20,700</text>
<text x="46.44 52.44 59.97 64.44 70.44 76.44" y="113" class="s" font-size="11" fill="#000" stroke="#000" stroke-width="0.2">19,800</text>
<text x="46.44 52.44 59.97 64.44 70.44 76.44" y="152" class="s" font-size="11" fill="#000" stroke="#000" stroke-width="0.2">18,900</text>
<text x="46.44 52.44 59.97 64.44 70.44 76.44" y="191" class="s" font-size="11" fill="#000" stroke="#000" stroke-width="0.2">18,000</text>
<text x="46.44 52.44 59.97 64.44 70.44 76.44" y="230" class="s" font-size="11" fill="#000" stroke="#000" stroke-width="0.2">17,100</text>
<text x="46.44 52.44 59.97 64.44 70.44 76.44" y="269" class="s" font-size="11" fill="#000" stroke="#000" stroke-width="0.2">16,200</text>
<text x="46.44 52.44 59.97 64.44 70.44 76.44" y="308" class="s" font-size="11" fill="#000" stroke="#000" stroke-width="0.2">15,300</text>
<text x="88.30 93.30 98.10 103.30 108.30" y="360.3" class="s" font-size="9" fill="#000" stroke="#000" stroke-width="0.2">05<tspan class="m">/</tspan>28</text>
<text x="88.30 93.30 98.10 103.30 108.30" y="690.3" class="s" font-size="9" fill="#000" stroke="#000" stroke-width="0.2">05<tspan class="m">/</tspan>28</text>
<text x="133.30 138.30 143.10 148.30 153.30" y="360.3" class="s" font-size="9" fill="#000" stroke="#000" stroke-width="0.2">06<tspan class="m">/</tspan>22</text>
<text x="133.30 138.30 143.10 148.30 153.30" y="690.3" class="s" font-size="9" fill="#000" stroke="#000" stroke-width="0.2">06<tspan class="m">/</tspan>22</text>
<text x="179.30 184.30 189.10 194.30 199.30" y="360.3" class="s" font-size="9" fill="#000" stroke="#000" stroke-width="0.2">07<tspan class="m">/</tspan>15</text>
<text x="179.30 184.30 189.10 194.30 199.30" y="690.3" class="s" font-size="9" fill="#000" stroke="#000" stroke-width="0.2">07<tspan class="m">/</tspan>15</text>
<text x="224.30 229.30 234.10 239.30 244.30" y="360.3" class="s" font-size="9" fill="#000" stroke="#000" stroke-width="0.2">08<tspan class="m">/</tspan>10</text>
<text x="224.30 229.30 234.10 239.30 244.30" y="690.3" class="s" font-size="9" fill="#000" stroke="#000" stroke-width="0.2">08<tspan class="m">/</tspan>10</text>
<text x="270.30 275.30 280.10 285.30 290.30" y="360.3" class="s" font-size="9" fill="#000" stroke="#000" stroke-width="0.2">09<tspan class="m">/</tspan>02</text>
<text x="270.30 275.30 280.10 285.30 290.30" y="690.3" class="s" font-size="9" fill="#000" stroke="#000" stroke-width="0.2">09<tspan class="m">/</tspan>02</text>
<text x="316.30 321.30 326.10 331.30 336.30" y="360.3" class="s" font-size="9" fill="#000" stroke="#000" stroke-width="0.2">09<tspan class="m">/</tspan>30</text>
<text x="316.30 321.30 326.10 331.30 336.30" y="690.3" class="s" font-size="9" fill="#000" stroke="#000" stroke-width="0.2">09<tspan class="m">/</tspan>30</text>
<text x="361.30 366.30 371.10 376.30 381.30" y="360.3" class="s" font-size="9" fill="#000" stroke="#000" stroke-width="0.2">10<tspan class="m">/</tspan>26</text>
<text x="361.30 366.30 371.10 376.30 381.30" y="690.3" class="s" font-size="9" fill="#000" stroke="#000" stroke-width="0.2">10<tspan class="m">/</tspan>26</text>
<text x="407.30 412.30 417.10 422.30 427.30" y="360.3" class="s" font-size="9" fill="#000" stroke="#000" stroke-width="0.2">11<tspan class="m">/</tspan>19</text>
<text x="407.30 412.30 417.10 422.30 427.30" y="690.3" class="s" font-size="9" fill="#000" stroke="#000" stroke-width="0.2">11<tspan class="m">/</tspan>19</text>
<text x="452.30 457.30 462.10 467.30 472.30" y="360.3" class="s" font-size="9" fill="#000" stroke="#000" stroke-width="0.2">12<tspan class="m">/</tspan>15</text>
<text x="452.30 457.30 462.10 467.30 472.30" y="690.3" class="s" font-size="9" fill="#000" stroke="#000" stroke-width="0.2">12<tspan class="m">/</tspan>15</text>
<text x="498.30 503.30 508.10 513.30 518.30" y="360.3" class="s" font-size="9" fill="#000" stroke="#000" stroke-width="0.2">01<tspan class="m">/</tspan>13</text>
<text x="498.30 503.30 508.10 513.30 518.30" y="690.3" class="s" font-size="9" fill="#000" stroke="#000" stroke-width="0.2">01<tspan class="m">/</tspan>13</text>
<text x="544.30 549.30 554.10 559.30 564.30" y="360.3" class="s" font-size="9" fill="#000" stroke="#000" stroke-width="0.2">02<tspan class="m">/</tspan>05</text>
<text x="544.30 549.30 554.10 559.30 564.30" y="690.3" class="s" font-size="9" fill="#000" stroke="#000" stroke-width="0.2">02<tspan class="m">/</tspan>05</text>
<g>
<line x1="88.5" y1="365" x2="88.5" y2="468" stroke="#000" stroke-width="1" stroke-dasharray="1 5"/>
<line x1="133.5" y1="365" x2="133.5" y2="468" stroke="#000" stroke-width="1" stroke-dasharray="1 5"/>
<line x1="179.5" y1="365" x2="179.5" y2="468" stroke="#000" stroke-width="1" stroke-dasharray="1 5"/>
<line x1="224.5" y1="365" x2="224.5" y2="468" stroke="#000" stroke-width="1" stroke-dasharray="1 5"/>
<line x1="270.5" y1="365" x2="270.5" y2="468" stroke="#000" stroke-width="1" stroke-dasharray="1 5"/>
<line x1="316.5" y1="365" x2="316.5" y2="468" stroke="#000" stroke-width="1" stroke-dasharray="1 5"/>
<line x1="361.5" y1="365" x2="361.5" y2="468" stroke="#000" stroke-width="1" stroke-dasharray="1 5"/>
<line x1="407.5" y1="365" x2="407.5" y2="468" stroke="#000" stroke-width="1" stroke-dasharray="1 5"/>
<line x1="452.5" y1="365" x2="452.5" y2="468" stroke="#000" stroke-width="1" stroke-dasharray="1 5"/>
<line x1="498.5" y1="365" x2="498.5" y2="468" stroke="#000" stroke-width="1" stroke-dasharray="1 5"/>
<line x1="544.5" y1="365" x2="544.5" y2="468" stroke="#000" stroke-width="1" stroke-dasharray="1 5"/>
<line x1="87" y1="384.5" x2="568" y2="384.5" stroke="#ff0000" stroke-width="1" stroke-dasharray="1 5"/>
<line x1="87" y1="393.5" x2="568" y2="393.5" stroke="#ff0000" stroke-width="1" stroke-dasharray="1 5"/>
<line x1="87" y1="431.5" x2="568" y2="431.5" stroke="#0000ff" stroke-width="1" stroke-dasharray="1 5"/>
<line x1="87" y1="441.5" x2="568" y2="441.5" stroke="#0000ff" stroke-width="1" stroke-dasharray="1 5"/>
</g>
<text x="58.44 64.44" y="390" class="s" font-size="11" fill="#ff0000" stroke="#ff0000" stroke-width="0.2">80</text>
<text transform="translate(76.5,390) scale(0.8333,1)" font-size="12" fill="#ff0000" stroke="#ff0000" stroke-width="0.2">%</text>
<text x="58.44 64.44" y="399" class="s" font-size="11" fill="#ff0000" stroke="#ff0000" stroke-width="0.2">70</text>
<text transform="translate(76.5,399) scale(0.8333,1)" font-size="12" fill="#ff0000" stroke="#ff0000" stroke-width="0.2">%</text>
<text x="58.44 64.44" y="437" class="s" font-size="11" fill="#0000ff" stroke="#0000ff" stroke-width="0.2">30</text>
<text transform="translate(76.5,437) scale(0.8333,1)" font-size="12" fill="#0000ff" stroke="#0000ff" stroke-width="0.2">%</text>
<text x="58.44 64.44" y="447" class="s" font-size="11" fill="#0000ff" stroke="#0000ff" stroke-width="0.2">20</text>
<text transform="translate(76.5,447) scale(0.8333,1)" font-size="12" fill="#0000ff" stroke="#0000ff" stroke-width="0.2">%</text>
<polyline points="88.6,383 90,390 93,393 95,396 97,410 98.6,432 100,424 103,423 106,432 107.6,444 109.6,459 112,454 113,438 114,410 115,394 118,386 120.6,376.4 122,388 124,410 126,434 128.6,459 131,410 132.4,376 133.6,365 136,365 138,368 140,378 142,386 144,390 145,406 146,434 147.6,458 149.6,448 152,434 154,430 155,408 157.6,376.4 158.6,394 160,418 160.6,443 162,422 163.4,401 164,434 165.6,460 167.4,434 168,420 170,412 172,411 173,388 175,372 177,367 181,366 187,366 188,378 189,402 190,419 191.6,414 193,426 194,438 195.6,455.6 198,446 200,430 200.6,422 203,425 205,408 207,382 209,365.6 211,371 213,380 216,394 219,399 221,392 223,382 224.4,369 225.6,388 227,408 229,428 230.6,446 232.4,417 234,424 236,418 238,410 240,400 241,416 243,438 244,459 249,460 254,456 256,444 258,424 260,398 262.4,369 264,376 266,396 267,416 268,434 270.6,443 273,438 275.4,444 277,437 279,432 280,444 281.4,458 282,418 283,388 283.6,366 285,378 287,398 289,401 292,422 294.4,434 297,414 299,378 300,382 301,408 303,438 305,460 307,438 308.4,422 310,438 312,452 313.4,458 315,434 316,422 317,398 318.4,381 321,379 324,371 326,378 329,371 331,384 333,394 334.4,365.6 335.6,388 337,406 339,434 340.6,450 342,426 344,398 345.6,385 347.6,400 349.6,398 351.6,382 353.4,371 355,384 356.6,395 358,384 359.6,376 361.6,379 363,388 364.6,396 366.6,391 368.4,398 369.6,406 371,391 372.4,398 374,428 375.4,452 377,424 379,404 381,378 383,370 386,367.6 389,366.4 393,369 395,378 397,398 398.4,414 399.6,431 401,398 402,385 404,396 406,384 408,378 411,375.6 412.4,375 414,384 415.6,398 417,388 418.4,381 420,394 421.6,414 423.4,446 425,398 426.4,365.6 428,378 429.6,396 430,388 431.6,386 432.4,418 433.6,438 434.4,450 436,417 437.6,438 439.6,451 441.6,454 444.4,457 446,444 447.6,435 450,438 451,452 452.4,460 453.6,428 455,402 457,386 458.4,380 459.4,398 460.4,428 463,434 466,442 469,449 471,450 472.4,430 474,414 476,398 479,385 480,406 481.6,436 483,453 486,454 487,449 489,454 490.6,460 492.4,451 494,447 495.6,456 497,438 498.4,420 500,431 501.6,437 504,441 506,434 509,426 510,438 511.6,456 514.4,460 515.6,434 516.4,398 517.6,376 520.4,372.4 521.6,390 522.4,404 524,384 525.6,371.6 527,378 528.4,384 530,378 531.6,372 533.4,368 535,373 536.4,376 537.6,408 539,426 541,434 543,441 544.4,445 546,427 547.6,441 549.4,456 552,446 554.4,456 555.6,438 557,418 558.4,406 560.4,398 562,397 563,386 565.6,374 567,386 568.6,397" fill="none" stroke="#0000ff" stroke-width="1"/>
<polyline points="88.6,378 92,388 95,393 97,398 99,410 102,421 104,424 107,427 110,440 112.4,446 115,432 118,404 120.6,387.6 123,394 125,400 127.6,418 130.4,437 133,424 135,394 138,369 140,372 143,380 145,390 147,410 149,428 152,444 154,436 156,418 158,407 161,408 163,409 165,438 168,426 170,423 172,422 174,408 177,386 180,371 183,366.4 187.6,366.4 189,378 191,396 193,412 195,424 197,434 198.6,440 201,434 204,426 206,414 209,392 212,373 214.4,372 217,382 220,393 222.4,391 224.4,387 226.6,390 228,402 230,416 233,426 235,429 238,419 240,416 242,422 244,432 246,444 248,454 250,459 253,458 256,452 259,436 262,416 265,396 267,394 269,410 271,424 273,436 275,442 278,438 279.6,441 281,445 282.4,422 285,404 288,391 289.4,388 291,398 294,412 297,423 300,410 302,407 304,420 307,434 310,440 313,443 315.6,440 317.6,426 319.6,402 322,384 325,378 329,374.4 332,378 335,377 337,388 339,402 341,416 342.4,425 345,416 348,402 351,391 354,386 357,382 360,377 363,383 367,389 370,395 372.4,396 374.4,414 376.4,421.6 379,416 382,398 384,382 387,372 390,368.4 393,369 396,376 398,388 400,400 401.4,406 404,403 407,390 410,380 412.4,377 415,380 418,384 420,394 422,404 424,410 427,404 430,387 431.6,380 433,398 434.4,414 437,428 439.6,438 442.4,442 444.4,452 447,446 450,441 452.4,438 454.4,430 457,416 460,405 462,414 465,426 468,438 471,446 474,440 477,424 479.6,397 481,410 483,426 485.6,444 488,451 491,454 494,451 496,452 498,442 501,436 503.6,433 506,435 509.6,433 512,440 514.4,448 517,434 519.6,412 522,388 524,383 526,383 528,387 530,378 533,376 536,373.6 538,388 540,408 542.4,424 545,437 548,440 550,443 552.4,444 554.4,452 556.4,438 559,424 561,410 566,390 568.6,389" fill="none" stroke="#ff0000" stroke-width="1"/>
<text transform="translate(579.4,376) scale(0.8333,1)" font-size="12" fill="#0000ff" stroke="#0000ff" stroke-width="0.2">%K</text>
<text transform="translate(579.4,388) scale(0.8333,1)" font-size="12" fill="#ff0000" stroke="#ff0000" stroke-width="0.2">%D</text>
<g>
<line x1="88.5" y1="473" x2="88.5" y2="576" stroke="#000" stroke-width="1" stroke-dasharray="1 5"/>
<line x1="133.5" y1="473" x2="133.5" y2="576" stroke="#000" stroke-width="1" stroke-dasharray="1 5"/>
<line x1="179.5" y1="473" x2="179.5" y2="576" stroke="#000" stroke-width="1" stroke-dasharray="1 5"/>
<line x1="224.5" y1="473" x2="224.5" y2="576" stroke="#000" stroke-width="1" stroke-dasharray="1 5"/>
<line x1="270.5" y1="473" x2="270.5" y2="576" stroke="#000" stroke-width="1" stroke-dasharray="1 5"/>
<line x1="316.5" y1="473" x2="316.5" y2="576" stroke="#000" stroke-width="1" stroke-dasharray="1 5"/>
<line x1="361.5" y1="473" x2="361.5" y2="576" stroke="#000" stroke-width="1" stroke-dasharray="1 5"/>
<line x1="407.5" y1="473" x2="407.5" y2="576" stroke="#000" stroke-width="1" stroke-dasharray="1 5"/>
<line x1="452.5" y1="473" x2="452.5" y2="576" stroke="#000" stroke-width="1" stroke-dasharray="1 5"/>
<line x1="498.5" y1="473" x2="498.5" y2="576" stroke="#000" stroke-width="1" stroke-dasharray="1 5"/>
<line x1="544.5" y1="473" x2="544.5" y2="576" stroke="#000" stroke-width="1" stroke-dasharray="1 5"/>
<line x1="87" y1="494.5" x2="568" y2="494.5" stroke="#ff0000" stroke-width="1" stroke-dasharray="1 5"/>
<line x1="87" y1="503.5" x2="568" y2="503.5" stroke="#ff0000" stroke-width="1" stroke-dasharray="1 5"/>
<line x1="87" y1="541.5" x2="568" y2="541.5" stroke="#0000ff" stroke-width="1" stroke-dasharray="1 5"/>
<line x1="87" y1="551.5" x2="568" y2="551.5" stroke="#0000ff" stroke-width="1" stroke-dasharray="1 5"/>
</g>
<text x="58.44 64.44" y="500" class="s" font-size="11" fill="#ff0000" stroke="#ff0000" stroke-width="0.2">80</text>
<text transform="translate(76.5,500) scale(0.8333,1)" font-size="12" fill="#ff0000" stroke="#ff0000" stroke-width="0.2">%</text>
<text x="58.44 64.44" y="509" class="s" font-size="11" fill="#ff0000" stroke="#ff0000" stroke-width="0.2">70</text>
<text transform="translate(76.5,509) scale(0.8333,1)" font-size="12" fill="#ff0000" stroke="#ff0000" stroke-width="0.2">%</text>
<text x="58.44 64.44" y="547" class="s" font-size="11" fill="#0000ff" stroke="#0000ff" stroke-width="0.2">30</text>
<text transform="translate(76.5,547) scale(0.8333,1)" font-size="12" fill="#0000ff" stroke="#0000ff" stroke-width="0.2">%</text>
<text x="58.44 64.44" y="557" class="s" font-size="11" fill="#0000ff" stroke="#0000ff" stroke-width="0.2">20</text>
<text transform="translate(76.5,557) scale(0.8333,1)" font-size="12" fill="#0000ff" stroke="#0000ff" stroke-width="0.2">%</text>
<polyline points="88.6,475.6 93.6,475.6 96,480 98,490 101,496 103,500 105,516 107,528 109,544 111,556 112.4,564.4 113.6,548 115,533 118,530.4 121,530.4 124,534 127,539 129,541 131,530 133,514 135,504 136.6,499 139,506 142,510 144.4,511 146,518 147.6,526 150,518 152,514 155,513.6 157,518 158.4,526 160.4,542 162.4,534 164,537 165.6,542 168,538 170,530 173,525 176,521.6 179,523 182,518 185,509 187.6,508 189.6,496 192,495 195,498 197,506 199,518 201,525 203,528 206,525 209,527 211.4,535 214,528 217,524 219,510 221,500 223,490 225,488 227.6,494 229,508 230,526 232,525 235,521 238,518 240,524 242,532 245,540 248,550 251,558 254,560.4 256,556 259,548 262,542 265,540 268,543 271,541 274,534 277,526 278.6,521 280,536 281.6,530 283.4,520 285,528 287,532 290,528 293,524 296,522 298,518 300,514 303,519 305.6,522 308,534 309.6,539 311,537 313.6,544 315.6,534 318,524 320,527 322,530 324,526 327,516 329.4,510 331,517 333,511 335,502 337.6,492.4 339.6,503 341.6,511 344,512 346,509.6 348,517 350,521 353,518 356,515.6 359,514 361,506 364,499.6 367,499 369,502 371,495 372.4,492.4 374.4,503 376,511 378.4,507 381,505 383,507 385,504 388,498.4 391,498 394,499 396,505 398,501 400,497 403,498 406,500.4 408,499 410,508 412,507 414.4,511 416.4,514 419,510 422,505 425,503.6 427,504 429,510 430,515 432,522 434,537 436,530 439,533 442,542 444,545 447,537 449,544 451,550 452.4,553 454,546 456,534 458,525 460,532 462,535 465,531 469,528 471,533 473,526 475.6,515 477.4,510 479,522 481,538 483,552 485.6,547 488,550 491,554 494,555 496,552 498,547 501,550 504,553 507,551 509,547 511,549 513.6,552 516,540 518,529 520,524 522,534 524,528 526,523 528,522 530,516 532.4,513 535,508 537,503.6 539,509 541,518 544,527 546,518 548,528 550,539 552.4,545 554.4,556 556,546 558,542 561,541 564,534 566,531 568,534" fill="none" stroke="#228b22" stroke-width="1"/>
<polyline points="88.6,486 91,488 94,489 96.4,493 98,485 100,483 102.4,484.4 104.4,489 106.4,493 107.6,504 109,520 110,527 112,530 113.6,523 115,517.6 117,521 120,524 122,530 125,535 129,542.4 131,534 133,525 135,518 137,514 140,514.4 143,517 145,516 147,520 148.4,523 150,519.6 152,523 154,521 156,518 158,522 160,524 162,520.4 163.6,519.6 165.6,526 168,527 170,532 173,533 176,529 180,525 183,517 186,512 189,517 192,519 195,522 198,519 200.4,526 203,510 206,506 208,503.6 210,507 212.4,513 214.4,517.6 217,517 219,520 222.4,520.4 224.4,523 226,520.4 228,517.6 229.4,526 230.6,532.4 232,522 235,517 239,513.6 241,517 243,528 246,536 249,544 252,552 254,557 256,551 259,544 262.4,538 265,539.6 268,542.4 270,545 273,543.6 276,546 279,545 281,545 282.4,534 285,531 288,527 291,521.6 294,525 297,526.4 300,529 303,530 306,528 308,525 311,528 313.6,530 316,526 318.4,520 320,528 321.6,533.6 323.6,528 326,523 329,519 331.6,521 334,520 337,524 340,524 342.4,517 345,516 348,517 349.6,506 351,503 353,504 355,507 357,510 359.6,505.6 361.6,508 364,512 367,513 369.6,509 372,510 375,514 377,507 379,504.6 382,504 384,501 386.4,497.6 389,499 391,500 393.6,498 395.6,503 397.6,508 399.4,511.6 401,506 403.6,504.4 406,505.6 409,503.6 411,498 412.6,490.4 415,494 418,497 420,500 421.6,506 423.4,517 426,511 428,513 430,514 432,517 433.6,522 435,519 436.4,514.4 439,526 442,531 444,541 447,536 450,542 452.4,545 454,541 456,534 458,528 460.4,534 463,537 466,537.6 469,538 472,533 475,534 477,531 479.6,527 482,531 485,536 487,534 490,536 492,542 494,554 495.6,560.4 497,550 498.4,544.4 501,547 504,547.6 507,548 509.4,546.4 512,552 514.4,555.6 516.4,544 518.4,538 521,537 523,533 525.6,530 528,528 530,525 533,516 536,521 539,522.4 542,523 545,521.6 547,521 549,525 552,526 554.4,540 557,530 559.6,527 562,533 565,529 567,532 568.6,533" fill="none" stroke="#000" stroke-width="1"/>
<text transform="translate(579.4,538) scale(0.8333,1)" font-size="12" fill="#228b22" stroke="#228b22" stroke-width="0.2">RSI : 9</text>
<text transform="translate(579.4,541) scale(0.8333,1)" font-size="12" fill="#000" stroke="#000" stroke-width="0.2">RSI : 14</text>
<g>
<line x1="88.5" y1="581" x2="88.5" y2="678" stroke="#000" stroke-width="1" stroke-dasharray="1 5"/>
<line x1="133.5" y1="581" x2="133.5" y2="678" stroke="#000" stroke-width="1" stroke-dasharray="1 5"/>
<line x1="179.5" y1="581" x2="179.5" y2="678" stroke="#000" stroke-width="1" stroke-dasharray="1 5"/>
<line x1="224.5" y1="581" x2="224.5" y2="678" stroke="#000" stroke-width="1" stroke-dasharray="1 5"/>
<line x1="270.5" y1="581" x2="270.5" y2="678" stroke="#000" stroke-width="1" stroke-dasharray="1 5"/>
<line x1="316.5" y1="581" x2="316.5" y2="678" stroke="#000" stroke-width="1" stroke-dasharray="1 5"/>
<line x1="361.5" y1="581" x2="361.5" y2="678" stroke="#000" stroke-width="1" stroke-dasharray="1 5"/>
<line x1="407.5" y1="581" x2="407.5" y2="678" stroke="#000" stroke-width="1" stroke-dasharray="1 5"/>
<line x1="452.5" y1="581" x2="452.5" y2="678" stroke="#000" stroke-width="1" stroke-dasharray="1 5"/>
<line x1="498.5" y1="581" x2="498.5" y2="678" stroke="#000" stroke-width="1" stroke-dasharray="1 5"/>
<line x1="544.5" y1="581" x2="544.5" y2="678" stroke="#000" stroke-width="1" stroke-dasharray="1 5"/>
<line x1="87" y1="589.5" x2="568" y2="589.5" stroke="#000" stroke-width="1" stroke-dasharray="1 5"/>
<line x1="87" y1="612.5" x2="568" y2="612.5" stroke="#000" stroke-width="1" stroke-dasharray="1 5"/>
<line x1="87" y1="635.5" x2="568" y2="635.5" stroke="#000" stroke-width="1" stroke-dasharray="1 5"/>
<line x1="87" y1="658.5" x2="568" y2="658.5" stroke="#000" stroke-width="1" stroke-dasharray="1 5"/>
</g>
<text x="64.44 70.44 76.44" y="595" class="s" font-size="11" fill="#000" stroke="#000" stroke-width="0.2">200</text>
<text x="76.44" y="618" class="s" font-size="11" fill="#000" stroke="#000" stroke-width="0.2">0</text>
<text x="58.84 64.44 70.44 76.44" y="641" class="s" font-size="11" fill="#000" stroke="#000" stroke-width="0.2"><tspan font-size="16" dy="0.9">-</tspan><tspan dy="-0.9">2</tspan>00</text>
<text x="58.84 64.44 70.44 76.44" y="664" class="s" font-size="11" fill="#000" stroke="#000" stroke-width="0.2"><tspan font-size="16" dy="0.9">-</tspan><tspan dy="-0.9">4</tspan>00</text>
<polyline points="88.6,593.6 92,594.4 95,597.6 98,601.6 101,603.6 104,605.6 107,609 110,615 112.4,619 115,615 118,612.4 120,612.4 123,613.6 126,616 129,619 132,617 134,611 136,604 138,598 140,597 143,597.6 145,601 147,610 149,614 152,616 155,613 157.6,610.4 160,616 162.4,615 164,620 166,626 169,629 170,630 172,630.4 174,625 177,616 180,608 182,603 185,599 187.4,595.6 190,599 193,600 196,605 199,610 201,613 203.6,615.6 206,613 209,610 212,609.6 215,609 218,608 221,606 224,603.6 226.6,604 229,608 231,611 234,613 237,614 240,612.4 243,617 246,623 248,632 250,646 252,662 254,676 255,680.4 257,679 259,670 261,658 263,648 265.4,643 268,649 270,653 272.4,651 275,651.6 277,650.4 279,652 281.4,655 282.6,642 284,630 287,625 289.6,621.6 292,625 295,624.4 298,618 300,615.6 302,616 304,621 306,626 309,627 311,632 313,639 315,640 317,636 319,629 322,623 324,616 326,608 328,602 331,600.4 333,599 335,596.4 337,599 339,605 341,607.6 344,605.6 347,607 350,607 352.4,601.6 355,601.6 357,600 359,595 361,591 364,592.4 368,593 371,591.6 373,594 375,599 377,600.4 380,598 383,596 385,591 387,587 390,585.6 393,586.4 396,589 398,594 400,598 403,599.6 405,598 408,596 411,596.4 413,595.6 416,598 419,598 422,601 424,604 427,603 430,603.6 432,605 434,612 437,615 440,619 442,624 444,630 447,629.6 449,632 451,636 452.4,641 454,636 456,630 458,625 462,624.4 467,624.4 470,625.6 473,624.4 476,620 479,615.6 481,619 483,624 486,630 489,639 492,645 494,651 495.6,654 498,648 501,650 504,652 507,651.6 509.4,649.6 511.6,657 514,664.4 516,656 518,644 520,636 522,633 524,627 526,623 528,619 530,611 532,602 534,597 536.4,593.6 538,598 539.6,605 542,612 544.4,617 546.4,620 548.4,628 551,644 553,656 554.6,667 557.2,654.7 560.2,644.6 563.2,636.5 566.3,631.5 568.9,630.1" fill="none" stroke="#228b22" stroke-width="1"/>
<polyline points="88.6,593.6 93,594 97,596 101,598 105,602 109,607 113,612 116,614 119,615 123,614 127,614.4 131,615 134,616 137,612 140,608 143,604 146,601.6 148,601.6 151,605 154,609 158,613 161,614 164,615 168,619 170,621 172,624 175,625 178,623 181,617 184,610 187,604 190,600.4 193,599 196,599.6 199,602 202,606 205,609.6 208,612.4 212,612.4 216,611 220,609 224,607.6 228,606.4 232,608 236,610 240,612 243,613 246,616 249,621 251,628 253,638 255,647 258,658 261,666 262.4,667.6 265,665 268,659 271,653 274,649.6 277,649.6 279.6,650.4 282,649 285,644 288,638 291,632 294,626 297,623 300,621 304,620 308,620.4 311,624 314,629 317,632.4 320,632.4 323,630.4 326,625 329,617 332,609 335,603 338,600.4 341,601.6 344,603 347,605 350,606.4 354,605 358,603 361,599.6 364,596.4 368,593.6 372,591.6 375,594 378,596 381,597 385,596.4 388,593 391,589.6 394,587.6 397,587.6 400,589.6 403,592.4 406,595 409,597 413,597.6 417,597.6 420,597.6 423,599.6 426,601.6 429,603 430,603.6 433,604 436,607 439,611 442,615 445,621 448,626 451,630 454,632.4 457,632 460,630.4 464,628 468,625.6 472,625 476,623.6 480,622 482.4,621 485,622.4 488,625 491,629 493.6,634 496,642 499,647 502,649.6 505,650.4 508,650.4 511,652 514,654 516.4,654.4 519,652 522,648 525,642 527.6,636 530,626 533,618 536,610 539,604 541,602.4 543.6,603 546,607 549,614 551.6,624 554,636 556.2,642.6 559.2,649.6 561.8,652.7 564.3,650.7 566.7,646.6 568.9,641.6" fill="none" stroke="#ff0000" stroke-width="1"/>
<text transform="translate(579.4,596) scale(0.8333,1)" font-size="12" fill="#228b22" stroke="#228b22" stroke-width="0.2">MACD</text>
<text transform="translate(579.4,608) scale(0.8333,1)" font-size="12" fill="#ff0000" stroke="#ff0000" stroke-width="0.2">SIGNAL</text>
<text transform="translate(1.2,706) scale(0.8333,1)" font-size="12" fill="#000" stroke="#000" stroke-width="0.2">(C) FISCO</text>
</svg></body></html>
